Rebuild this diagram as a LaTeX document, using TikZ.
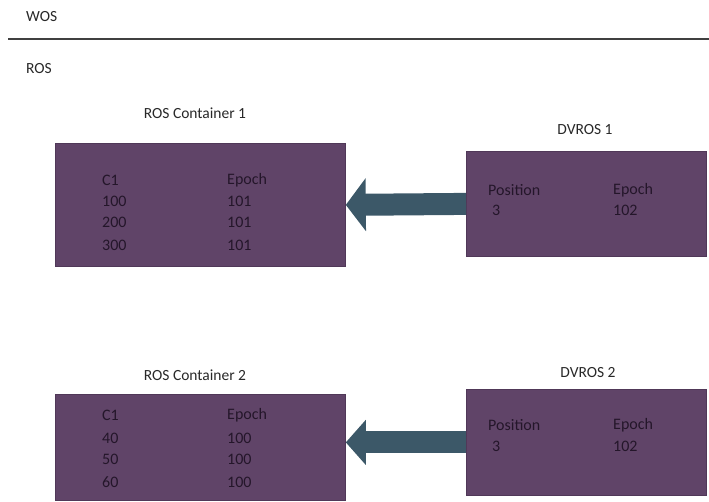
\documentclass[tikz,border=0pt]{standalone}
\usepackage{fontspec}
\setmainfont{Carlito}
\usetikzlibrary{arrows.meta}
\definecolor{boxfill}{RGB}{96,68,104}
\definecolor{boxedge}{RGB}{80,56,88}
\definecolor{boxtext}{RGB}{36,22,42}
\definecolor{arrowcol}{RGB}{60,88,104}
\definecolor{labeltext}{RGB}{40,40,40}
\tikzset{
  store/.style={draw=boxedge, line width=0.8pt, fill=boxfill, inner sep=0pt, anchor=north west},
  cell/.style={anchor=west, inner sep=0pt, text=boxtext, font=\fontsize{16}{16}\selectfont},
  caption/.style={inner sep=0pt, text=labeltext, font=\fontsize{15.5}{16}\selectfont},
  shift arrow/.style={draw=arrowcol, line width=22pt, -{Triangle[length=20pt, width=#1]}},
  shift arrow/.default=52pt,
}
\begin{document}
\begin{tikzpicture}[x=1pt, y=-1pt]
\useasboundingbox (0,0) rectangle (709,502);

% store headings and the WOS/ROS divider
\node[caption, anchor=west] (wos) at (26,17) {WOS};
\coordinate (divL) at (8,39);
\coordinate (divR) at (709,39);
\draw[line width=1.2pt, draw=black!75] (divL) -- (divR);
\node[caption, anchor=west] (ros) at (26,69) {ROS};

% ROS container 1 and its delete vector
\node[caption] (t1) at (195,113) {ROS Container 1};
\node[store, minimum width=290pt, minimum height=123pt] (c1) at (55,143) {};
\node[caption] (t2) at (585,130) {DVROS 1};
\node[store, minimum width=240pt, minimum height=105pt] (d1) at (466,151) {};

\node[cell] (c1h1) at (102,180) {C1};
\node[cell] (c1h2) at (227,180) {Epoch};
\node[cell] (c1a1) at (102,201) {100};
\node[cell] (c1a2) at (227,201) {101};
\node[cell] (c1b1) at (102,222) {200};
\node[cell] (c1b2) at (227,222) {101};
\node[cell] (c1c1) at (102,245) {300};
\node[cell] (c1c2) at (227,245) {101};

\node[cell] (d1h1) at (488,190) {Position};
\node[cell] (d1h2) at (613,190) {Epoch};
\node[cell] (d1a1) at (492,210) {3};
\node[cell] (d1a2) at (613,210) {102};

\draw[shift arrow] (d1.west) -- (c1.east);

% ROS container 2 and its delete vector
\node[caption] (t3) at (195,375) {ROS Container 2};
\node[store, minimum width=290pt, minimum height=106pt] (c2) at (55,394) {};
\node[caption] (t4) at (588,373) {DVROS 2};
\node[store, minimum width=240pt, minimum height=106pt] (d2) at (466,389) {};

\node[cell] (c2h1) at (102,415) {C1};
\node[cell] (c2h2) at (227,415) {Epoch};
\node[cell] (c2a1) at (102,438) {40};
\node[cell] (c2a2) at (227,438) {100};
\node[cell] (c2b1) at (102,459) {50};
\node[cell] (c2b2) at (227,459) {100};
\node[cell] (c2c1) at (102,482) {60};
\node[cell] (c2c2) at (227,482) {100};

\node[cell] (d2h1) at (488,425) {Position};
\node[cell] (d2h2) at (613,425) {Epoch};
\node[cell] (d2a1) at (492,446) {3};
\node[cell] (d2a2) at (613,446) {102};

\draw[shift arrow=44pt] (d2.west) -- (c2.east |- d2.west);
\end{tikzpicture}
\end{document}
